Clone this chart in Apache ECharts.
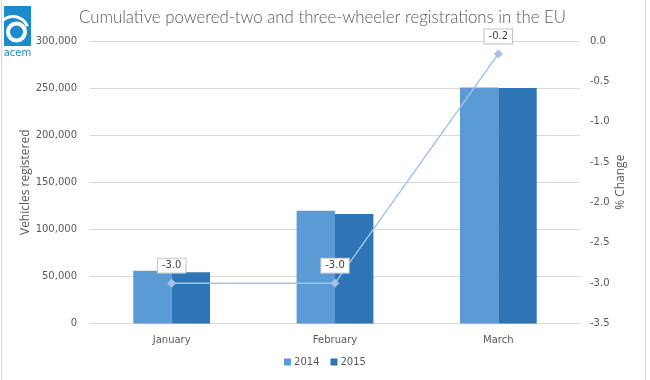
<!DOCTYPE html>
<html>
<head>
<meta charset="utf-8">
<script src="https://cdn.jsdelivr.net/npm/echarts@6/dist/echarts.min.js"></script>
<style>html,body{margin:0;padding:0;background:#fff}#c{width:650px;height:380px}</style>
</head>
<body>
<div id="c"></div>
<script>
const categories = ['January', 'February', 'March'];
const reg2014 = [56000, 119800, 250700];
const reg2015 = [54300, 116200, 250200];
const pctChange = [-3.0, -3.0, -0.16];
const leftTicks = { min: 0, max: 300000, interval: 50000 };
const rightTicks = { min: -3.5, max: 0, interval: 0.5 };

const chart = echarts.init(document.getElementById('c'), null, { renderer: 'canvas' });
const fmt = v => String(v).replace(/\B(?=(\d{3})+(?!\d))/g, ',');
const tickFont = { fontFamily: 'DejaVu Sans', fontSize: 10, color: '#595959' };
const blue = '#1b8bcb';

chart.setOption({
  animation: false,
  backgroundColor: '#fff',
  title: {
    text: 'Cumulative powered-two and three-wheeler registrations in the EU',
    left: 74, top: 4,
    textStyle: { fontFamily: 'Lato', fontWeight: 300, fontSize: 16.8, color: '#595959' }
  },
  grid: { left: 90, right: 70, top: 41, bottom: 56.5, containLabel: false },
  legend: {
    data: ['2014', '2015'],
    bottom: 8, left: 'center',
    itemWidth: 7, itemHeight: 7, itemGap: 11,
    icon: 'rect',
    textStyle: { fontFamily: 'DejaVu Sans', fontSize: 10, color: '#595959', padding: [0, 0, 0, -2] }
  },
  xAxis: {
    type: 'category', data: categories,
    axisTick: { show: false },
    axisLine: { lineStyle: { color: '#d9d9d9', width: 1 } },
    axisLabel: Object.assign({ margin: 12 }, tickFont)
  },
  yAxis: [
    {
      type: 'value', min: leftTicks.min, max: leftTicks.max, interval: leftTicks.interval,
      name: 'Vehicles registered', nameLocation: 'middle', nameGap: 58, nameRotate: 90,
      nameMoveOverlap: false,
      nameTextStyle: { fontFamily: 'Open Sans', fontSize: 12, color: '#595959' },
      axisLabel: Object.assign({ margin: 13, formatter: fmt }, tickFont),
      splitLine: { lineStyle: { color: '#d9d9d9' } },
      axisLine: { show: false }, axisTick: { show: false }
    },
    {
      type: 'value', min: rightTicks.min, max: rightTicks.max, interval: rightTicks.interval,
      name: '% Change', nameLocation: 'middle', nameGap: 35, nameRotate: 90,
      nameMoveOverlap: false,
      nameTextStyle: { fontFamily: 'Open Sans', fontSize: 12, color: '#595959' },
      axisLabel: Object.assign({ margin: 10, formatter: v => v.toFixed(1) }, tickFont),
      splitLine: { show: false },
      axisLine: { show: false }, axisTick: { show: false }
    }
  ],
  series: [
    { name: '2014', type: 'bar', data: reg2014, barGap: 0, barCategoryGap: '53%', itemStyle: { color: '#5b9bd5' } },
    { name: '2015', type: 'bar', data: reg2015, barGap: 0, barCategoryGap: '53%', itemStyle: { color: '#2e75b6' } },
    {
      name: '% Change', type: 'line', yAxisIndex: 1, data: pctChange,
      symbol: 'diamond', symbolSize: 9,
      itemStyle: { color: '#a4c2e8' },
      lineStyle: { color: '#a4c2e8', width: 1.5 },
      label: {
        show: true, position: 'top', distance: 6,
        formatter: p => p.value.toFixed(1),
        backgroundColor: '#fff', borderColor: '#bfbfbf', borderWidth: 1,
        padding: [2, 4, 2, 4],
        fontFamily: 'DejaVu Sans', fontSize: 10, color: '#404040'
      },
      z: 5
    }
  ],
  graphic: [
    { type: 'line', shape: { x1: 1.5, y1: 0, x2: 1.5, y2: 380 }, style: { stroke: '#d9d9d9', lineWidth: 1 } },
    { type: 'line', shape: { x1: 645.5, y1: 0, x2: 645.5, y2: 380 }, style: { stroke: '#d9d9d9', lineWidth: 1 } },
    { type: 'rect', shape: { x: 4, y: 6, width: 27, height: 40 }, style: { fill: blue } },
    { type: 'circle', shape: { cx: 16.5, cy: 32, r: 8.5 }, style: { fill: 'none', stroke: '#fff', lineWidth: 4 } },
    { type: 'sector', shape: { cx: 13, cy: 32, r0: 14, r: 17, startAngle: -Math.PI * 0.72, endAngle: -Math.PI * 0.12 }, style: { fill: '#fff' } },
    { type: 'text', x: 17.5, y: 48, style: { text: 'acem', fill: blue, font: '10px "DejaVu Sans"', align: 'center' } }
  ]
});
</script>
</body>
</html>
